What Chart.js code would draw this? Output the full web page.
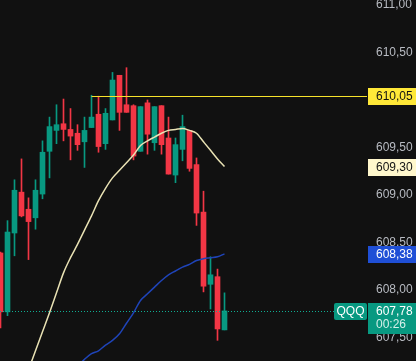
<!DOCTYPE html>
<html lang="en">
<head>
  <meta charset="UTF-8">
  <title>QQQ intraday</title>
  <script src="https://cdn.jsdelivr.net/npm/chart.js@4"></script>
  <style>
    html, body { margin: 0; padding: 0; background: #111111; overflow: hidden; }
    .wrap { position: relative; width: 416px; height: 361px; }
  </style>
</head>
<body>
  <div class="wrap"><canvas id="chart"></canvas></div>

  <script>
    // Candles (one per bar, left to right)
    const opens  = [608.39, 607.77, 608.60, 609.03, 608.85, 608.76, 609.01, 609.46, 609.68, 609.75, 609.69,
                    609.65, 609.56, 609.71, 609.85, 609.54, 609.79, 610.26, 609.95, 609.94, 609.46, 609.97,
                    609.55, 609.94, 609.60, 609.21, 609.48, 609.68, 609.32, 608.82, 608.06, 608.14, 607.58];
    const highs  = [608.40, 608.73, 609.16, 609.38, 608.97, 609.16, 609.57, 609.82, 609.95, 610.01, 609.91,
                    609.74, 609.82, 610.05, 610.04, 609.91, 610.29, 610.26, 610.34, 609.95, 609.93, 610.00,
                    609.93, 609.94, 609.82, 609.60, 609.84, 609.68, 609.39, 609.04, 608.35, 608.22, 607.97];
    const lows   = [607.60, 607.73, 608.36, 608.77, 608.32, 608.64, 608.96, 609.18, 609.54, 609.57, 609.37,
                    609.47, 609.29, 609.71, 609.45, 609.48, 609.79, 609.68, 609.87, 609.37, 609.46, 609.43,
                    609.47, 609.43, 609.22, 609.13, 609.36, 609.25, 608.68, 607.98, 607.80, 607.47, 607.58];
    const closes = [607.77, 608.61, 609.05, 608.78, 608.72, 609.05, 609.45, 609.72, 609.74, 609.69, 609.62,
                    609.53, 609.68, 609.82, 609.51, 609.86, 610.21, 609.87, 609.87, 609.41, 609.93, 609.64,
                    609.93, 609.53, 609.22, 609.53, 609.72, 609.28, 608.81, 608.04, 608.16, 607.59, 607.78];

    // Moving averages (null where the line has not started)
    const maShort = [null, null, null, null, 607.16, 607.36, 607.56, 607.76, 607.97, 608.18, 608.34,
                     608.48, 608.63, 608.78, 608.94, 609.07, 609.18, 609.26, 609.34, 609.42, 609.52, 609.57,
                     609.61, 609.65, 609.68, 609.69, 609.70, 609.68, 609.65, 609.56, 609.47, 609.38, 609.30];
    const maLong  = [null, null, null, null, null, null, null, null, null, null, null,
                     607.20, 607.27, 607.33, 607.36, 607.42, 607.47, 607.54, 607.65, 607.76, 607.89, 607.96,
                     608.03, 608.10, 608.16, 608.20, 608.24, 608.27, 608.31, 608.33, 608.34, 608.35, 608.38];

    // Horizontal level drawn from the high of bar 13
    const levelPrice = 610.05;
    const levelFrom = 13;

    const tickValues = [607.5, 608.0, 608.5, 609.0, 609.5, 610.0, 610.5, 611.0];
    const priceMin = 607.2526;
    const priceMax = 611.0526;
    const barMin = -0.0714;
    const barMax = 52.357;

    const symbol = 'QQQ';
    const countdown = '00:26';

    const UP = '#089981';
    const DOWN = '#f23645';
    const FONT = '"Liberation Sans", Arial, sans-serif';

    const fmt = v => v.toFixed(2).replace('.', ',');
    const colorOf = i => closes[i] >= opens[i] ? UP : DOWN;

    const wickData = opens.map((o, i) => ({ x: i, y: [lows[i], highs[i]] }));
    const bodyData = opens.map((o, i) => ({ x: i, y: [o, closes[i]] }));
    const toPoints = arr => arr.map((v, i) => ({ x: i, y: v })).filter(p => p.y !== null);

    // level line, last-price line and the coloured tags on the price scale
    const priceTags = {
      id: 'priceTags',
      afterDatasetsDraw(chart) {
        const { ctx, chartArea: a, scales: { x, y } } = chart;
        ctx.save();
        ctx.beginPath();
        ctx.rect(a.left, a.top, a.right - a.left, a.bottom - a.top);
        ctx.clip();

        const ly = Math.floor(y.getPixelForValue(levelPrice)) + 1.5;
        ctx.strokeStyle = '#f7e32b';
        ctx.lineWidth = 1;
        ctx.beginPath();
        ctx.moveTo(x.getPixelForValue(levelFrom), ly);
        ctx.lineTo(a.right, ly);
        ctx.stroke();

        const last = closes[closes.length - 1];
        const cy = Math.floor(y.getPixelForValue(last)) + 1.5;
        ctx.strokeStyle = '#0fae93';
        ctx.setLineDash([1, 2]);
        ctx.beginPath();
        ctx.moveTo(a.left, cy);
        ctx.lineTo(a.right - 33, cy);
        ctx.stroke();
        ctx.restore();
      },
      afterDraw(chart) {
        const { ctx, chartArea: a, scales: { y } } = chart;
        const left = a.right + 1;
        const w = chart.width - left;
        const textX = a.right + 9;

        function tag(value, bg, fg) {
          const p = Math.floor(y.getPixelForValue(value)) + 1;
          ctx.fillStyle = bg;
          ctx.fillRect(left, p - 8, w, 17);
          ctx.fillStyle = fg;
          ctx.fillText(fmt(value), textX, p + 1);
        }

        ctx.save();
        ctx.font = '12px ' + FONT;
        ctx.textBaseline = 'middle';
        ctx.textAlign = 'left';

        tag(levelPrice, '#ffe838', '#131313');
        tag(maShort[maShort.length - 1], '#fff7cc', '#131313');
        tag(maLong[maLong.length - 1], '#1f4fd6', '#ffffff');

        const last = closes[closes.length - 1];
        const p = Math.floor(y.getPixelForValue(last)) + 1;
        ctx.fillStyle = UP;
        ctx.fillRect(left, p - 8, w, 31);
        ctx.beginPath();
        ctx.roundRect(a.right - 33, p - 8, 33, 17, 2);
        ctx.fill();
        ctx.fillStyle = '#ffffff';
        ctx.fillText(fmt(last), textX, p + 1);
        ctx.fillStyle = '#d6f0ea';
        ctx.fillText(countdown, textX, p + 14);
        ctx.fillStyle = '#ffffff';
        ctx.textAlign = 'center';
        ctx.fillText(symbol, a.right - 16.5, p + 1);
        ctx.restore();
      }
    };

    new Chart(document.getElementById('chart'), {
      type: 'bar',
      data: {
        datasets: [
          {
            type: 'line', data: toPoints(maShort), borderColor: '#e9e2b4', borderWidth: 1.5,
            pointRadius: 0, tension: 0.3, cubicInterpolationMode: 'monotone', order: 1
          },
          {
            type: 'line', data: toPoints(maLong), borderColor: '#1f44b8', borderWidth: 1.5,
            pointRadius: 0, tension: 0.3, cubicInterpolationMode: 'monotone', order: 1
          },
          {
            data: wickData, grouped: false, barThickness: 1, borderWidth: 0,
            backgroundColor: c => colorOf(c.dataIndex), order: 3
          },
          {
            data: bodyData, grouped: false, barThickness: 5, borderWidth: 0, minBarLength: 1,
            backgroundColor: c => colorOf(c.dataIndex), order: 2
          }
        ]
      },
      options: {
        responsive: true,
        maintainAspectRatio: false,
        animation: false,
        layout: { padding: 0 },
        plugins: { legend: { display: false }, tooltip: { enabled: false } },
        scales: {
          x: { type: 'linear', min: barMin, max: barMax, display: false, offset: false },
          y: {
            position: 'right',
            min: priceMin,
            max: priceMax,
            grid: { display: false, drawTicks: false },
            border: { display: false },
            ticks: {
              color: '#b8bbc2',
              font: { family: FONT, size: 12 },
              padding: 9,
              autoSkip: false,
              callback: v => fmt(v)
            },
            afterBuildTicks: s => { s.ticks = tickValues.map(v => ({ value: v })); },
            afterFit: s => { s.width = 49; s.paddingTop = 0; s.paddingBottom = 0; }
          }
        }
      },
      plugins: [priceTags]
    });
  </script>
</body>
</html>
